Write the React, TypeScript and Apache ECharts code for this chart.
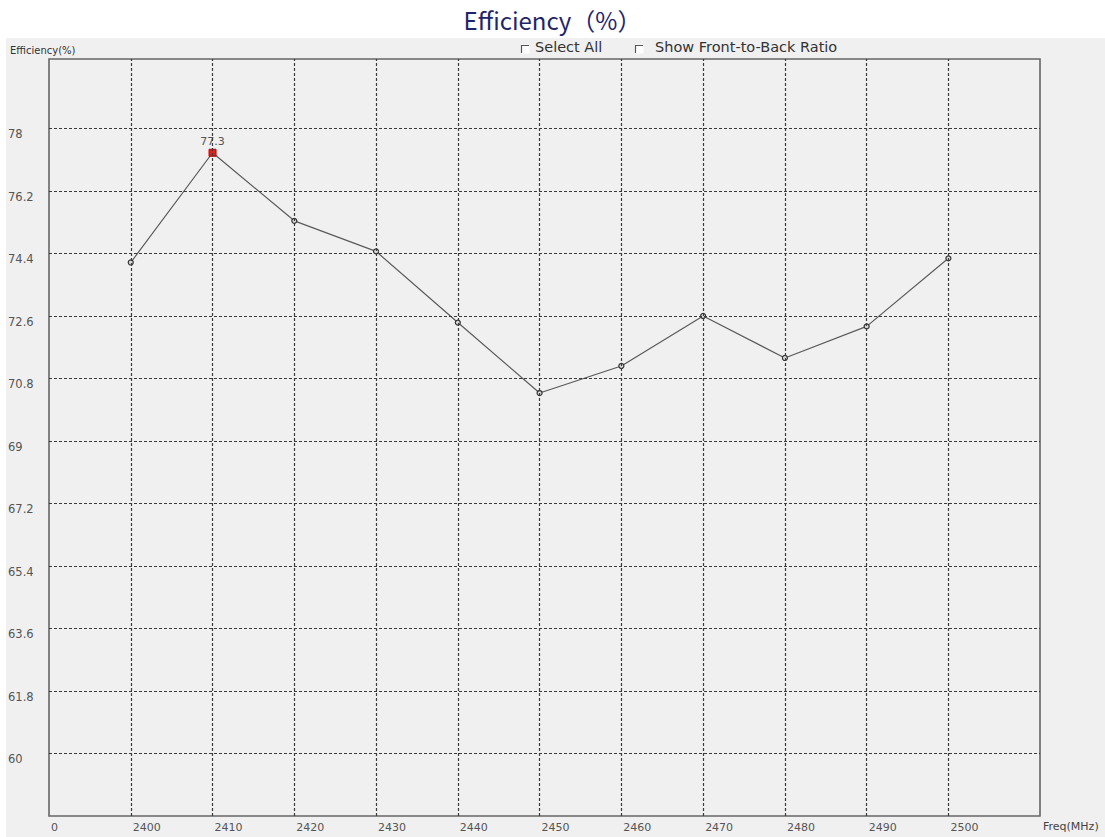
import React, { useEffect, useRef } from "react";
import * as echarts from "echarts";

const freqs = [2400, 2410, 2420, 2430, 2440, 2450, 2460, 2470, 2480, 2490, 2500];
const efficiency = [74.14, 77.3, 75.34, 74.46, 72.41, 70.38, 71.16, 72.6, 71.39, 72.3, 74.26];
const yTicks = [60, 61.8, 63.6, 65.4, 67.2, 69, 70.8, 72.6, 74.4, 76.2, 78];
const peakIndex = 1;

function checkbox(x: number, y: number) {
  return {
    type: "group",
    left: x,
    top: y,
    children: [
      { type: "rect", shape: { x: 0, y: 0, width: 8, height: 8 }, style: { fill: "#ffffff", stroke: "#ffffff", lineWidth: 1 } },
      { type: "polyline", shape: { points: [[0.5, 8], [0.5, 0.5], [8, 0.5]] }, style: { stroke: "#555", lineWidth: 1.2, fill: null } },
    ],
  };
}

export default function App() {
  const ref = useRef<HTMLDivElement>(null);
  useEffect(() => {
    const chart = echarts.init(ref.current!, null, { renderer: "svg" });
    const gridStyle = { color: "#3a3a3a", width: 1.2, type: [3, 2] as any };
    const points = freqs.map((f, i) =>
      i === peakIndex
        ? {
            value: [f, efficiency[i]],
            symbol: "rect",
            symbolSize: 7,
            itemStyle: { color: "#e0201c", borderColor: "#c00000", borderWidth: 1 },
            label: {
              show: true,
              position: "top",
              distance: 2,
              formatter: String(efficiency[i]),
              color: "#555",
              fontSize: 11,
              fontFamily: "DejaVu Sans",
            },
          }
        : { value: [f, efficiency[i]] }
    );
    chart.setOption({
      animation: false,
      backgroundColor: "#ffffff",
      title: {
        text: "Efficiency（%）",
        left: "center",
        top: 2,
        textStyle: {
          color: "#1f2568",
          fontSize: 24,
          fontWeight: "normal",
          fontFamily: "Noto Sans CJK SC",
        },
      },
      grid: {
        left: 49,
        top: 59,
        right: 65,
        bottom: 21,
        show: true,
        backgroundColor: "#f0f0f0",
        borderColor: "#666666",
        borderWidth: 1.6,
        containLabel: false,
      },
      graphic: [
        {
          type: "rect",
          z: -10,
          silent: true,
          shape: { x: 6, y: 38, width: 1105, height: 800 },
          style: { fill: "#f0f0f0" },
        },
        {
          type: "text",
          left: 10,
          top: 45,
          style: { text: "Efficiency(%)", fill: "#333", fontSize: 10, fontFamily: "DejaVu Sans" },
        },
        {
          type: "text",
          left: 1043,
          top: 821,
          style: { text: "Freq(MHz)", fill: "#444", fontSize: 11, fontFamily: "DejaVu Sans" },
        },
        checkbox(519, 43),
        {
          type: "text",
          left: 535,
          top: 39,
          style: { text: "Select All", fill: "#333", fontSize: 14.5, fontFamily: "DejaVu Sans" },
        },
        checkbox(633, 43),
        {
          type: "text",
          left: 655,
          top: 39,
          style: { text: "Show Front-to-Back Ratio", fill: "#333", fontSize: 14.5, fontFamily: "DejaVu Sans" },
        },
      ],
      xAxis: {
        type: "value",
        min: 2390,
        max: 2511.2,
        interval: 10,
        axisLine: { show: false },
        axisTick: { show: false },
        splitLine: { show: false },
        axisLabel: {
          align: "left",
          verticalAlign: "top",
          margin: 6,
          padding: [0, 0, 0, 2],
          color: "#555",
          fontSize: 11,
          fontFamily: "DejaVu Sans",
          showMaxLabel: false,
          formatter: (v: number) => (v === 2390 ? "0" : v > 2500 ? "" : String(v)),
        },
      },
      yAxis: {
        type: "value",
        min: 58.2,
        max: 80,
        interval: 1.8,
        axisLine: { show: false },
        axisTick: { show: false },
        splitLine: { show: false },
        axisLabel: {
          align: "left",
          verticalAlign: "top",
          margin: 41,
          color: "#555",
          fontSize: 11.5,
          fontFamily: "DejaVu Sans",
          formatter: (v: number) => {
            const r = Math.round(v * 10) / 10;
            return yTicks.some((t) => Math.abs(t - r) < 0.01) ? String(r) : "";
          },
        },
      },
      series: [
        {
          type: "line",
          data: [],
          z: 1,
          silent: true,
          markLine: {
            silent: true,
            symbol: "none",
            label: { show: false },
            lineStyle: gridStyle,
            emphasis: { disabled: true },
            data: [
              ...freqs.map((f) => ({ xAxis: f })),
              ...yTicks.map((t) => ({ yAxis: t })),
            ],
          },
        },
        {
          type: "line",
          z: 3,
          data: points,
          symbol: "circle",
          symbolSize: 5,
          showAllSymbol: true,
          lineStyle: { color: "#5a5a5a", width: 1.2 },
          itemStyle: { color: "#d8d8d8", borderColor: "#333", borderWidth: 1.2 },
        },
      ],
    });
    return () => chart.dispose();
  }, []);
  return (
    <div
      ref={ref}
      style={{ position: "fixed", left: 0, top: 0, width: 1105, height: 837 }}
    />
  );
}
